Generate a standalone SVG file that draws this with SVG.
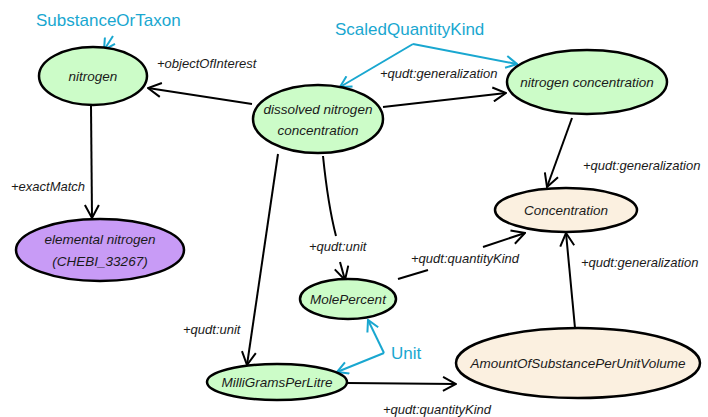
<svg xmlns="http://www.w3.org/2000/svg" width="708" height="417" viewBox="0 0 708 417">
<style>
.n{stroke:#000;stroke-width:2.5}
.g{fill:#ccfcc8}
.b{fill:#fbf0e0}
.p{fill:#c89bf6}
.t{font-family:"Liberation Sans",Arial,sans-serif;font-style:italic;font-size:13.5px;fill:#1a1a1a;text-anchor:middle}
.e{font-family:"Liberation Sans",Arial,sans-serif;font-style:italic;font-size:13px;fill:#1a1a1a}
.s{font-family:"Liberation Sans",Arial,sans-serif;font-size:17px;fill:#19a7d0}
.c{fill:none;stroke:#000;stroke-width:2}
.bl{fill:none;stroke:#19a7d0;stroke-width:2}
</style>
<defs>
<marker id="a" viewBox="0 0 16 16" refX="15" refY="8" markerWidth="16" markerHeight="16" orient="auto" markerUnits="userSpaceOnUse">
<path d="M2,1 L15,8 L2,15" fill="none" stroke="#000" stroke-width="2"/>
</marker>
<marker id="ab" viewBox="0 0 14 14" refX="13" refY="7" markerWidth="14" markerHeight="14" orient="auto" markerUnits="userSpaceOnUse">
<path d="M2,1 L13,7 L2,13" fill="none" stroke="#19a7d0" stroke-width="2"/>
</marker>
</defs>
<g id="connectors">
<line class="c" x1="252" y1="104" x2="148" y2="88" marker-end="url(#a)"/>
<line class="c" x1="383" y1="107" x2="506" y2="93" marker-end="url(#a)"/>
<line class="c" x1="91" y1="106" x2="92" y2="218" marker-end="url(#a)"/>
<line class="c" x1="572" y1="118" x2="547" y2="187" marker-end="url(#a)"/>
<path class="c" d="M323,156 Q328,205 336,236"/>
<line class="c" x1="340" y1="262" x2="345" y2="280" marker-end="url(#a)"/>
<line class="c" x1="278" y1="154" x2="247" y2="365" marker-end="url(#a)"/>
<line class="c" x1="398" y1="279" x2="428" y2="270"/>
<line class="c" x1="483" y1="247" x2="525" y2="233" marker-end="url(#a)"/>
<line class="c" x1="347" y1="383" x2="456" y2="384" marker-end="url(#a)"/>
<line class="c" x1="575" y1="328" x2="566" y2="233" marker-end="url(#a)"/>
<text class="e" x="157" y="68">+objectOfInterest</text>
<text class="e" x="380" y="78">+qudt:generalization</text>
<text class="e" x="11" y="191">+exactMatch</text>
<text class="e" x="583" y="170">+qudt:generalization</text>
<text class="e" x="309" y="251">+qudt:unit</text>
<text class="e" x="183" y="334">+qudt:unit</text>
<text class="e" x="411" y="263">+qudt:quantityKind</text>
<text class="e" x="383" y="414">+qudt:quantityKind</text>
<text class="e" x="581" y="267">+qudt:generalization</text>
</g>
<g id="types">
<text class="s" x="36" y="26">SubstanceOrTaxon</text>
<line class="bl" x1="113" y1="36" x2="104" y2="50" marker-end="url(#ab)"/>
<text class="s" x="335" y="35">ScaledQuantityKind</text>
<polyline class="bl" points="413,44 340,87" marker-end="url(#ab)"/>
<polyline class="bl" points="413,44 517,64" marker-end="url(#ab)"/>
<text class="s" x="391" y="359">Unit</text>
<polyline class="bl" points="384,353 368,320" marker-end="url(#ab)"/>
<polyline class="bl" points="384,353 337,372" marker-end="url(#ab)"/>
</g>
<g id="nitrogen">
<ellipse class="n g" cx="93" cy="76" rx="54" ry="29"/>
<text class="t" x="93" y="81">nitrogen</text>
</g>
<g id="dissolved-nitrogen-concentration">
<ellipse class="n g" cx="318" cy="119" rx="65" ry="34"/>
<text class="t" x="318" y="114">dissolved nitrogen</text>
<text class="t" x="318" y="135">concentration</text>
</g>
<g id="nitrogen-concentration">
<ellipse class="n g" cx="587" cy="82" rx="80" ry="32"/>
<text class="t" x="587" y="87">nitrogen concentration</text>
</g>
<g id="concentration">
<ellipse class="n b" cx="566" cy="210" rx="71" ry="22"/>
<text class="t" x="566" y="215">Concentration</text>
</g>
<g id="elemental-nitrogen">
<ellipse class="n p" cx="100" cy="250" rx="84" ry="31"/>
<text class="t" x="100" y="244">elemental nitrogen</text>
<text class="t" x="100" y="266">(CHEBI_33267)</text>
</g>
<g id="molepercent">
<ellipse class="n g" cx="348" cy="299" rx="48" ry="20"/>
<text class="t" x="348" y="304">MolePercent</text>
</g>
<g id="milligramsperlitre">
<ellipse class="n g" cx="277" cy="382" rx="70" ry="18"/>
<text class="t" x="277" y="387">MilliGramsPerLitre</text>
</g>
<g id="amountofsubstanceperunitvolume">
<ellipse class="n b" cx="578" cy="363" rx="122" ry="35"/>
<text class="t" x="578" y="368">AmountOfSubstancePerUnitVolume</text>
</g>
</svg>
